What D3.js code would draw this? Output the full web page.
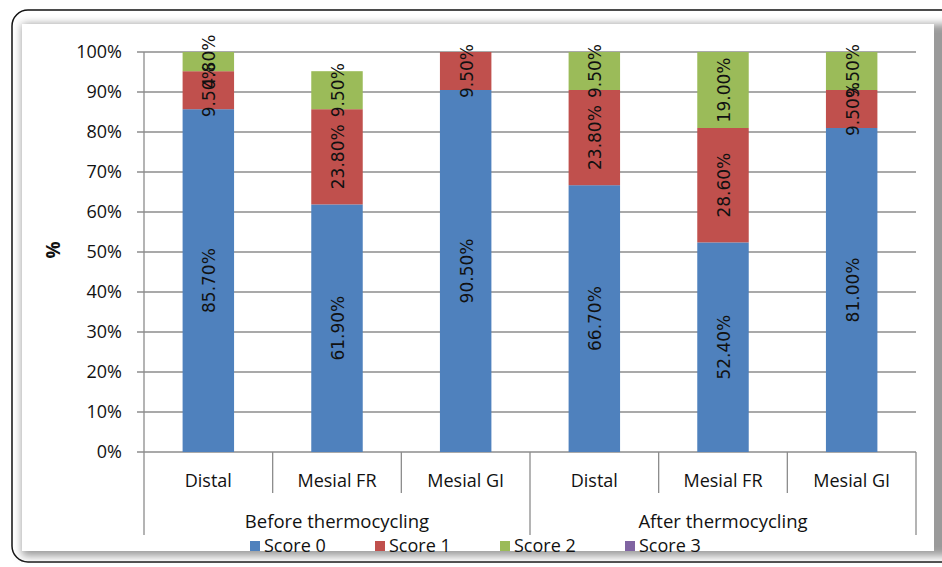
<!DOCTYPE html>
<html><head><meta charset="utf-8">
<script src="https://cdn.jsdelivr.net/npm/d3@7"></script>
<style>body{margin:0;background:#fff}svg{display:block}text{font-family:"Open Sans",Lato,sans-serif}</style>
</head><body><svg id="c" width="942" height="567"></svg>
<script>
const groups = ["Before thermocycling", "After thermocycling"];
const categories = ["Distal", "Mesial FR", "Mesial GI", "Distal", "Mesial FR", "Mesial GI"];
const seriesNames = ["Score 0", "Score 1", "Score 2", "Score 3"];
const score0 = [85.7, 61.9, 90.5, 66.7, 52.4, 81.0];
const score1 = [9.5, 23.8, 9.5, 23.8, 28.6, 9.5];
const score2 = [4.8, 9.5, 0, 9.5, 19.0, 9.5];
const score3 = [0, 0, 0, 0, 0, 0];
const colors = ["#4F81BD", "#C0504D", "#9BBB59", "#8064A2"];
const yTicks = [0, 10, 20, 30, 40, 50, 60, 70, 80, 90, 100];

(function () {
const svg = d3.select("#c");
const defs = svg.append("defs");
const f = defs.append("filter").attr("id", "sh").attr("x", -0.05).attr("y", -0.05).attr("width", 1.1).attr("height", 1.1);
f.append("feGaussianBlur").attr("stdDeviation", 4);
svg.append("rect").attr("x", 12).attr("y", 10).attr("width", 950).attr("height", 552).attr("rx", 16)
  .attr("fill", "#fff").attr("stroke", "#111").attr("stroke-width", 1.5);
svg.append("rect").attr("x", 22).attr("y", 24).attr("width", 930).attr("height", 532).attr("fill", "#9a9a9a").attr("filter", "url(#sh)");
svg.append("rect").attr("x", 22).attr("y", 24).attr("width", 912).attr("height", 527).attr("fill", "#fff");

const pL = 144, pR = 916, pT = 52, pB = 452;
const x = d3.scaleBand().domain(d3.range(categories.length)).range([pL, pR]).paddingInner(0.6).paddingOuter(0.3);
const xb = d3.scaleBand().domain(d3.range(categories.length)).range([pL, pR]);
const y = d3.scaleLinear().domain([0, 100]).range([pB, pT]);

svg.append("g").selectAll("line").data(yTicks).join("line")
  .attr("x1", pL - 7).attr("x2", pR).attr("y1", d => y(d)).attr("y2", d => y(d))
  .attr("stroke", "#8c8c8c").attr("stroke-width", 1.3);
svg.append("line").attr("x1", pL).attr("x2", pL).attr("y1", pT).attr("y2", 535).attr("stroke", "#8c8c8c").attr("stroke-width", 1.3);
svg.append("g").selectAll("text").data(yTicks).join("text")
  .attr("x", 122).attr("y", d => y(d)).attr("dy", "0.36em").attr("text-anchor", "end")
  .attr("font-size", 18).attr("fill", "#111").text(d => d + "%");
svg.append("text").attr("transform", "translate(60,250) rotate(-90)").attr("text-anchor", "middle")
  .attr("font-size", 19).attr("font-weight", "bold").attr("fill", "#111").text("%");

const rows = categories.map((c, i) => ({i, "Score 0": score0[i], "Score 1": score1[i], "Score 2": score2[i], "Score 3": score3[i]}));
const stack = d3.stack().keys(seriesNames)(rows);
stack.forEach((s, si) => {
  svg.append("g").selectAll("rect").data(s.filter(d => d[1] - d[0] > 0)).join("rect")
    .attr("x", d => x(d.data.i)).attr("width", x.bandwidth())
    .attr("y", d => y(d[1])).attr("height", d => y(d[0]) - y(d[1]))
    .attr("fill", colors[si]);
});
stack.forEach((s, si) => {
  svg.append("g").selectAll("text").data(s.filter(d => d[1] - d[0] > 0)).join("text")
    .attr("transform", d => `translate(${x(d.data.i) + x.bandwidth() / 2 + 1},${y((d[0] + d[1]) / 2)}) rotate(-90)`)
    .attr("text-anchor", "middle").attr("dy", "0.36em")
    .style("font-family", "'DejaVu Sans',sans-serif").attr("font-size", 17).attr("fill", "#111")
    .text(d => (d[1] - d[0]).toFixed(2) + "%");
});

svg.append("g").selectAll("line").data(d3.range(1, categories.length + 1)).join("line")
  .attr("x1", i => xb(i - 1) + xb.bandwidth()).attr("x2", i => xb(i - 1) + xb.bandwidth())
  .attr("y1", pB).attr("y2", i => i % 3 === 0 ? 535 : 493)
  .attr("stroke", "#8c8c8c").attr("stroke-width", 1.3);
svg.append("g").selectAll("text").data(categories).join("text")
  .attr("x", (d, i) => xb(i) + xb.bandwidth() / 2).attr("y", 487).attr("text-anchor", "middle")
  .attr("font-size", 18).attr("fill", "#111").text(d => d);
svg.append("g").selectAll("text").data(groups).join("text")
  .attr("x", (d, g) => (xb(g * 3) + xb(g * 3 + 2) + xb.bandwidth()) / 2).attr("y", 528).attr("text-anchor", "middle")
  .attr("font-size", 18.5).attr("fill", "#111").text(d => d);

const lx = [250, 375, 500, 625];
const lg = svg.append("g").selectAll("g").data(seriesNames).join("g").attr("transform", (d, i) => `translate(${lx[i]},546)`);
lg.append("rect").attr("x", 0).attr("y", -5).attr("width", 10).attr("height", 10).attr("fill", (d, i) => colors[i]);
lg.append("text").attr("x", 14).attr("y", 0).attr("dy", "0.36em").attr("font-size", 18).attr("fill", "#111").text(d => d);
})();
</script></body></html>
